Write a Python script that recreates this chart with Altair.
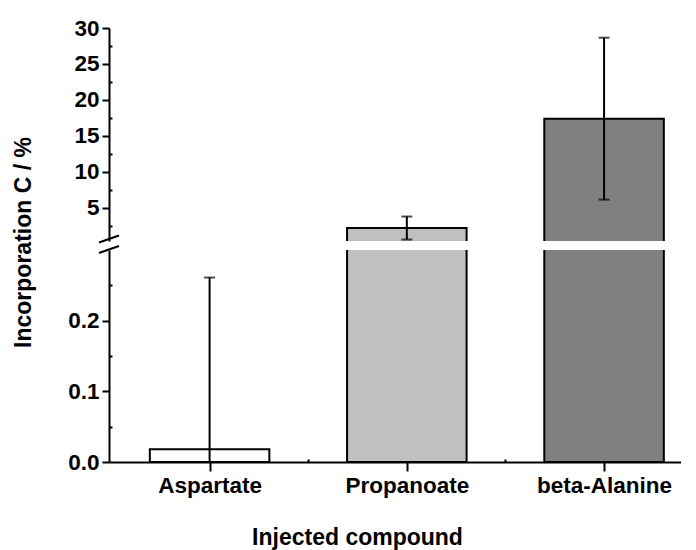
import altair as alt
import pandas as pd

# ---- data ----
compounds = ["Aspartate", "Propanoate", "beta-Alanine"]
means = [0.018, 2.2, 17.4]
sds = [0.243, 1.6, 11.25]
fills = ["#ffffff", "#c0c0c0", "#808080"]

upper_ticks = [5, 10, 15, 20, 25, 30]
upper_minor = [2.5, 7.5, 12.5, 17.5, 22.5, 27.5]
lower_ticks = [0.0, 0.1, 0.2]
lower_minor = [0.05, 0.15, 0.25]
x_minor = [0.5, 1.5]

upper_domain = [0.4, 30]
lower_domain = [0, 0.3]

df = pd.DataFrame({
    "compound": compounds,
    "idx": list(range(len(compounds))),
    "mean": means,
    "sd": sds,
    "fill": fills,
})

W = 572
H_UP = 213
H_LO = 212
FONT = "Liberation Sans"
BAR_HALF = 0.303
X_DOM = [-0.51, 2.39]

label_expr = "[" + ",".join("'%s'" % c for c in compounds) + "][datum.value]"

base = alt.Chart(df).transform_calculate(
    x0="datum.idx - %f" % BAR_HALF,
    x1="datum.idx + %f" % BAR_HALF,
    lo="datum.mean - datum.sd",
    hi="datum.mean + datum.sd",
)

common_axis = dict(
    grid=False, domainColor="black", domainWidth=2, tickColor="black",
    tickWidth=2, labelColor="black", labelFont=FONT, labelFontSize=22.5,
    labelFontWeight="bold", titleColor="black", titleFont=FONT,
    titleFontWeight="bold",
)


def panel(y_domain, y_ticks, y_minor, height, y_fmt, lower):
    xscale = alt.Scale(domain=X_DOM, nice=False, zero=False)
    yscale = alt.Scale(domain=y_domain, nice=False, zero=False)

    if lower:
        x_axis = alt.Axis(
            orient="bottom", values=list(range(len(compounds))),
            labelExpr=label_expr, tickSize=9, labelPadding=3,
            labelFlush=False, title="Injected compound", titleFontSize=23,
            titleX=248, titleAlign="center", titlePadding=30, **common_axis)
        x_minor_axis = alt.Axis(
            orient="top", offset=-height, values=x_minor, labels=False,
            domain=False, tickSize=3, tickWidth=2, tickColor="black",
            grid=False, title=None)
        y_axis = alt.Axis(
            orient="left", values=y_ticks, format=y_fmt, tickSize=7,
            labelPadding=3, title="Incorporation C / %", titleFontSize=23,
            titleAngle=-90, titleX=-86, titleY=-8, titleAlign="center",
            titleBaseline="middle", **common_axis)
    else:
        x_axis = None
        x_minor_axis = None
        y_axis = alt.Axis(
            orient="left", values=y_ticks, format=y_fmt, tickSize=7,
            labelPadding=3, title=None, **common_axis)

    y_minor_axis = alt.Axis(
        orient="right", offset=-W, values=y_minor, labels=False,
        domain=False, tickSize=3, tickWidth=2, tickColor="black",
        grid=False, title=None)

    bars = base.mark_bar(stroke="black", strokeWidth=2, clip=True).encode(
        x=alt.X("x0:Q", scale=xscale, axis=x_axis),
        x2="x1:Q",
        y=alt.Y("mean:Q", scale=yscale, axis=y_axis),
        y2=alt.datum(0),
        fill=alt.Fill("fill:N", scale=None),
    )
    rules = base.mark_rule(color="black", strokeWidth=2, clip=True).encode(
        x=alt.X("idx:Q", scale=xscale, axis=x_minor_axis),
        y=alt.Y("lo:Q", scale=yscale, axis=y_minor_axis),
        y2="hi:Q",
    )
    cap_hi = base.mark_tick(color="black", orient="horizontal", size=11,
                            thickness=2, clip=True).encode(
        x=alt.X("idx:Q", scale=xscale, axis=None),
        y=alt.Y("hi:Q", scale=yscale, axis=None),
    )
    cap_lo = base.mark_tick(color="black", orient="horizontal", size=11,
                            thickness=2, clip=True).encode(
        x=alt.X("idx:Q", scale=xscale, axis=None),
        y=alt.Y("lo:Q", scale=yscale, axis=None),
    )
    # axis-break marks
    if lower:
        yb, yb2 = 3, -4
    else:
        yb, yb2 = height + 1.5, height - 5.5
    slash = alt.Chart(alt.Data(values=[{"k": 1}])).mark_rule(
        color="black", strokeWidth=2).encode(
        x=alt.value(-10), x2=alt.value(10), y=alt.value(yb), y2=alt.value(yb2))

    return alt.layer(bars, rules, cap_hi, cap_lo, slash).resolve_axis(
        x="independent", y="independent").properties(width=W, height=height)


upper = panel(upper_domain, upper_ticks, upper_minor, H_UP, "d", False)
lower = panel(lower_domain, lower_ticks, lower_minor, H_LO, ".1f", True)

chart = alt.vconcat(upper, lower, spacing=9, bounds="flush").properties(
    padding={"left": 3, "top": 9, "right": 0, "bottom": 0}
).configure_view(stroke=None)

chart.save("out.html", embed_options={"renderer": "svg", "actions": False})
